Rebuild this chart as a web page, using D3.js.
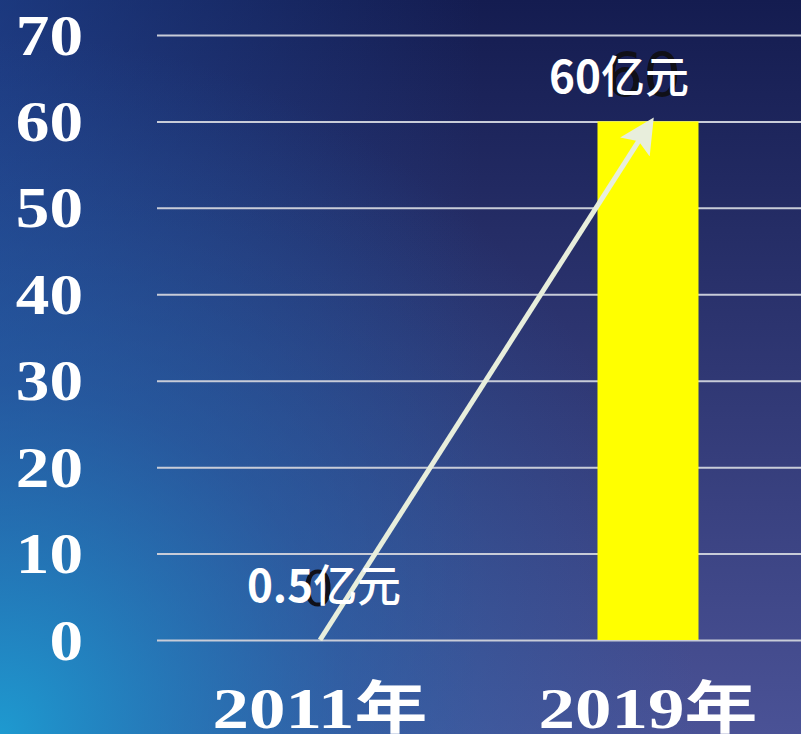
<!DOCTYPE html>
<html lang="zh">

<body style="margin:0;overflow:hidden">
    <script type='text/javascript' src='https://d3js.org/d3.v7.min.js'></script>
    <script>
        // chart data
        var categories = ["2011年", "2019年"];
        var barValues = [0, 60];
        var darkLabels = ["0", "60"];
        var amounts = ["0.5", "60"];
        var unit = "亿元";
        var yTicks = [0, 10, 20, 30, 40, 50, 60, 70];

        const width = 801;
        const height = 734;

        var svg = d3.select("body")
            .append("svg")
            .attr("width", width)
            .attr("height", height);

        var defs = svg.append("defs");
        var bg = defs.append("linearGradient")
            .attr("id", "bg")
            .attr("x1", "0").attr("y1", "0")
            .attr("x2", "0").attr("y2", "1");
        bg.append("stop").attr("offset", "0").attr("stop-color", "#141c50");
        bg.append("stop").attr("offset", "1").attr("stop-color", "#4a5296");

        var side = defs.append("linearGradient")
            .attr("id", "side")
            .attr("x1", "0").attr("y1", "0")
            .attr("x2", "1").attr("y2", "0");
        side.append("stop").attr("offset", "0").attr("stop-color", "#2250a4").attr("stop-opacity", 0.55);
        side.append("stop").attr("offset", "0.6").attr("stop-color", "#2250a4").attr("stop-opacity", 0);

        var glow = defs.append("radialGradient")
            .attr("id", "glow")
            .attr("gradientUnits", "userSpaceOnUse")
            .attr("cx", 0).attr("cy", height).attr("r", 700);
        glow.append("stop").attr("offset", "0").attr("stop-color", "#1e9ad0").attr("stop-opacity", 1);
        glow.append("stop").attr("offset", "0.5").attr("stop-color", "#2070b4").attr("stop-opacity", 0.45);
        glow.append("stop").attr("offset", "1").attr("stop-color", "#2060a8").attr("stop-opacity", 0);

        var marker = defs.append("marker")
            .attr("id", "arrow")
            .attr("viewBox", "0 0 10 10")
            .attr("refX", 8).attr("refY", 5)
            .attr("markerWidth", 7).attr("markerHeight", 7)
            .attr("markerUnits", "strokeWidth")
            .attr("orient", "auto");
        marker.append("path").attr("d", "M0,0 L10,5 L0,10 L2,5 Z").attr("fill", "#e8eedc");

        svg.append("rect").attr("width", width).attr("height", height).attr("fill", "url(#bg)");
        svg.append("rect").attr("width", width).attr("height", height).attr("fill", "url(#side)");
        svg.append("rect").attr("width", width).attr("height", height).attr("fill", "url(#glow)");

        var x = d3.scaleBand()
            .domain(categories)
            .range([157, 811])
            .paddingInner(0.692)
            .paddingOuter(0.343);

        var y = d3.scaleLinear()
            .domain([0, 70])
            .range([640, 35]);

        // y axis with gridlines
        var yAxis = svg.append("g")
            .attr("transform", "translate(157,0)")
            .call(d3.axisLeft(y).tickValues(yTicks).tickSize(-(width - 157)).tickPadding(74));
        yAxis.select(".domain").remove();
        yAxis.selectAll(".tick line")
            .attr("stroke", "#c8ccd8")
            .attr("stroke-width", 2);
        yAxis.selectAll(".tick text")
            .attr("x", 0)
            .attr("dy", "0.34em")
            .attr("transform", "translate(-74,0) scale(1.2,1)")
            .attr("fill", "#ffffff")
            .attr("font-family", "'Liberation Serif', 'Times New Roman', serif")
            .attr("font-weight", "bold")
            .attr("font-size", 56);

        // x labels
        svg.selectAll(".xlab")
            .data(categories)
            .enter()
            .append("text")
            .attr("class", "xlab")
            .attr("transform", function (d) {
                return "translate(" + (x(d) + x.bandwidth() / 2) + ",728) scale(1.28,1)";
            })
            .attr("text-anchor", "middle")
            .attr("fill", "#ffffff")
            .attr("font-family", "'Liberation Serif', 'Noto Sans CJK SC', serif")
            .attr("font-weight", "bold")
            .attr("font-size", 57)
            .text(function (d) { return d; });

        // bars
        svg.selectAll(".bar")
            .data(barValues)
            .enter()
            .append("rect")
            .attr("class", "bar")
            .attr("x", function (d, i) { return x(categories[i]); })
            .attr("y", function (d) { return y(d); })
            .attr("width", x.bandwidth())
            .attr("height", function (d) { return y(0) - y(d); })
            .attr("fill", "#ffff00");

        // dark value labels (mostly hidden behind the white ones)
        svg.selectAll(".dlab")
            .data(darkLabels)
            .enter()
            .append("text")
            .attr("class", "dlab")
            .attr("x", function (d, i) { return x(categories[i]) + x.bandwidth() / 2 + (i === 0 ? -2 : -5); })
            .attr("y", function (d, i) { return y(barValues[i]) + (i === 0 ? -34 : -25); })
            .attr("text-anchor", "middle")
            .attr("fill", "#101018")
            .attr("font-family", "'DejaVu Sans', sans-serif")
            .attr("font-size", function (d, i) { return i === 0 ? 50 : 60; })
            .text(function (d) { return d; });

        // growth arrow
        svg.append("line")
            .attr("x1", x(categories[0]) + x.bandwidth() / 2)
            .attr("y1", y(barValues[0]))
            .attr("x2", x(categories[1]) + x.bandwidth() / 2 + 2)
            .attr("y2", y(barValues[1]) + 2)
            .attr("stroke", "#e8eedc")
            .attr("stroke-width", 5)
            .attr("marker-end", "url(#arrow)");

        // amount labels
        var alab = svg.selectAll(".alab")
            .data(amounts)
            .enter()
            .append("text")
            .attr("class", "alab")
            .attr("x", function (d, i) { return x(categories[i]) + x.bandwidth() / 2 + (i === 0 ? 4 : -29); })
            .attr("y", function (d, i) { return y(barValues[i]) + (i === 0 ? -38 : -28); })
            .attr("text-anchor", "middle")
            .attr("fill", "#ffffff")
            .attr("font-family", "'Noto Sans CJK SC', sans-serif")
            .attr("font-size", 44);
        alab.append("tspan").attr("font-weight", "bold").text(function (d) { return d; });
        alab.append("tspan").attr("font-weight", 500).text(unit);
    </script>
</body>

</html>
